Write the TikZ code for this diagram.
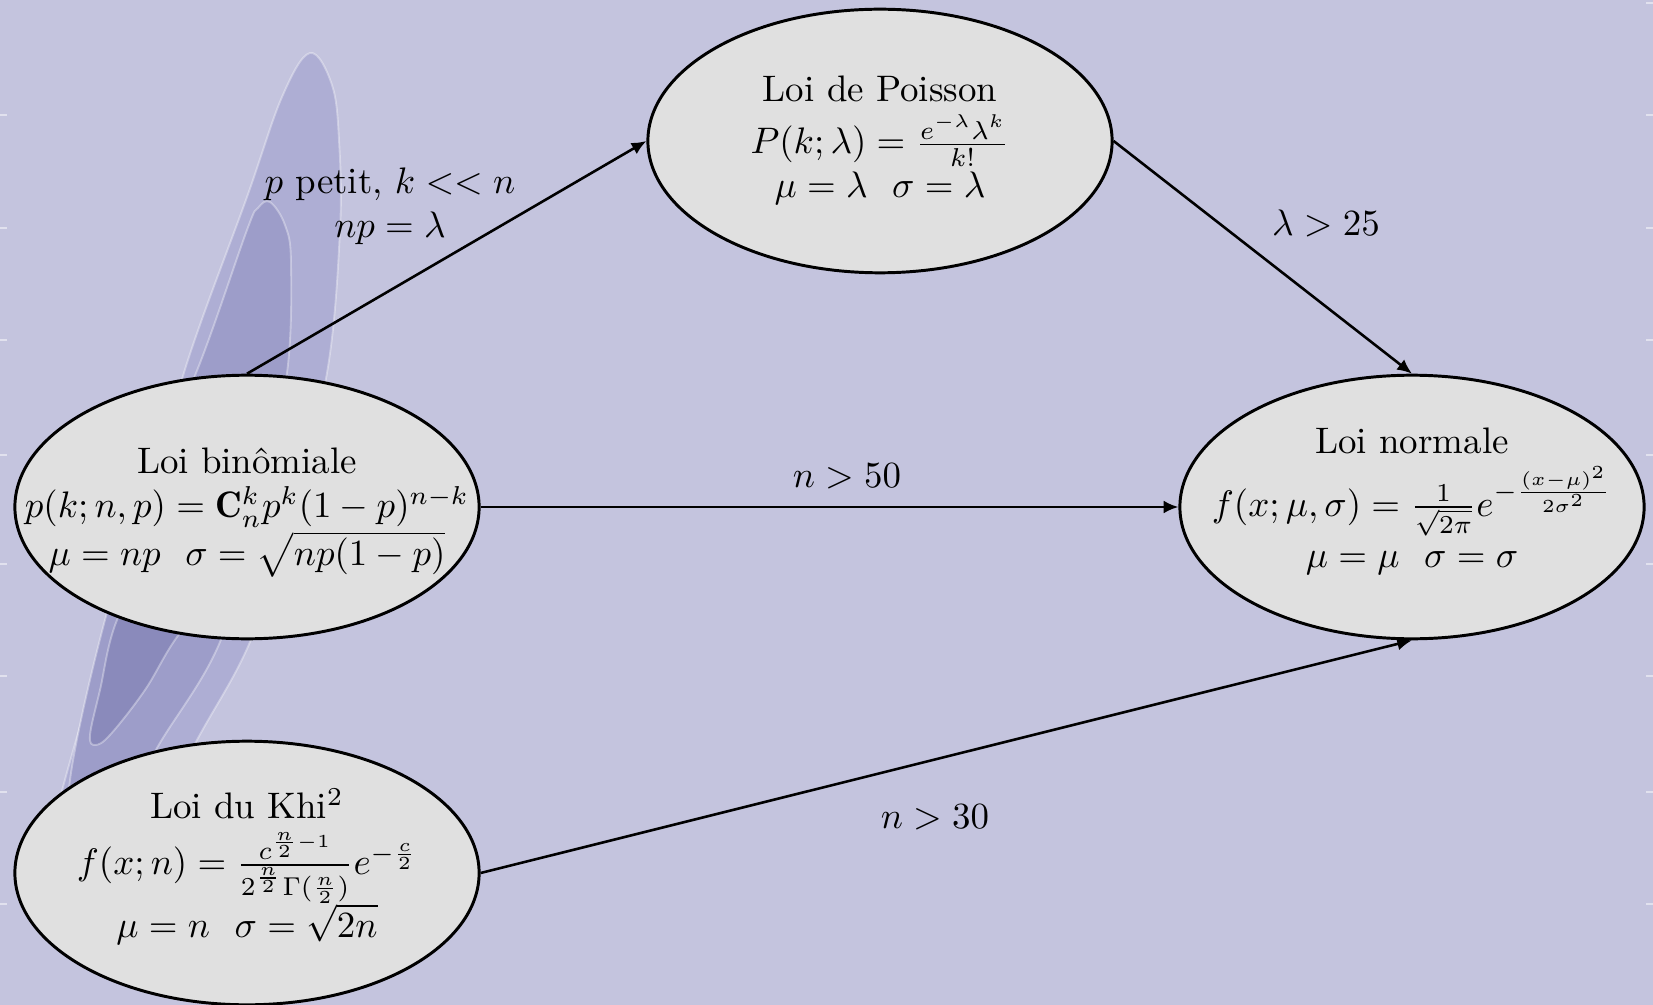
\documentclass[tikz,border=0pt]{standalone}
\usepackage{fontspec}
\usetikzlibrary{arrows.meta,shapes.geometric}
\definecolor{bgcol}{HTML}{C4C4DE}
\definecolor{blobA}{HTML}{AEAED4}
\definecolor{blobB}{HTML}{9D9DC9}
\definecolor{blobC}{HTML}{8A8ABB}
\definecolor{ellfill}{HTML}{E0E0E0}
\newcommand{\tlines}[1]{\begin{tabular}{@{}c@{}}#1\end{tabular}}
\begin{document}
\begin{tikzpicture}[x=0.00952cm,y=-0.00952cm,
  distnode/.style={ellipse,draw=black,line width=0.8pt,fill=ellfill,
    minimum width=4.42cm,minimum height=2.51cm,inner sep=0pt},
  disttext/.style={inner sep=0pt},
  conn/.style={line width=0.7pt,-{Latex[length=4pt,width=3.5pt]}},
  edgelabel/.style={align=center,inner sep=1pt},
  blobline/.style={draw=white,draw opacity=0.35,line width=0.5pt},
  tick/.style={white,opacity=0.5,line width=0.6pt}]
\fill[bgcol] (0,0) rectangle (1653,1005);
\useasboundingbox (0,0) rectangle (1653,1005);
% background blobs
\filldraw[fill=blobA,blobline] plot[smooth cycle,tension=0.6] coordinates {
  (310,53) (332,85) (339,140) (340,230) (327,373) (290,520) (250,642)
  (197,740) (150,830) (80,880) (50,850) (63,787) (112,618) (150,500)
  (187,363) (247,197) (282,97)};
\filldraw[fill=blobB,blobline] plot[smooth cycle,tension=0.6] coordinates {
  (270,202) (285,225) (291,263) (287,373) (260,500) (220,642) (157,748)
  (120,820) (75,850) (70,780) (105,620) (150,480) (200,363) (247,230)
  (258,208)};
\filldraw[fill=blobC,blobline] plot[smooth cycle,tension=0.6] coordinates {
  (240,470) (250,520) (230,570) (177,637) (145,690) (110,735) (95,745)
  (90,735) (100,690) (117,620) (160,540) (210,480)};
% edge ticks
\foreach \yy in {115,228,340,455,564,676,792,904} {
  \draw[tick] (0,\yy) -- (7,\yy);
  \draw[tick] (1646,\yy) -- (1653,\yy);
}
\draw[tick] (1646,3) -- (1653,3);
% nodes
\node[distnode] (poisson) at (880,141) {};
\node[distnode] (binom) at (247,507) {};
\node[distnode] (khi) at (247,873) {};
\node[distnode] (normal) at (1412,507) {};
\node[disttext] (poissontxt) at (poisson.center) {\tlines{Loi de Poisson\\
  $P(k;\lambda)=\frac{e^{-\lambda}\lambda^k}{k!}$\\
  $\mu=\lambda\ \ \sigma=\lambda$}};
\node[disttext] (binomtxt) at ([yshift=-1pt]binom.center) {\tlines{Loi bin\^omiale\\
  $p(k;n,p)=\mathbf{C}_n^k p^k(1-p)^{n-k}$\\
  $\mu=np\ \ \sigma=\sqrt{np(1-p)}$}};
\node[disttext] (khitxt) at ([yshift=1pt]khi.center) {\tlines{Loi du Khi$^2$\\
  $f(x;n)=\frac{c^{\frac{n}{2}-1}}{2^{\frac{n}{2}}\Gamma(\frac{n}{2})}e^{-\frac{c}{2}}$\\
  $\mu=n\ \ \sigma=\sqrt{2n}$}};
\node[disttext] (normaltxt) at ([yshift=1.5pt]normal.center) {\tlines{Loi normale\\
  $f(x;\mu,\sigma)=\frac{1}{\sqrt{2\pi}}e^{-\frac{(x-\mu)^2}{2\sigma^2}}$\\
  $\mu=\mu\ \ \sigma=\sigma$}};
% connectors
\draw[conn] (binom.north) -- (poisson.west);
\draw[conn] (poisson.east) -- (normal.north);
\draw[conn] (binom.east) -- (normal.west);
\draw[conn] (khi.east) -- (normal.south);
% labels
\node[edgelabel] (lab1) at (390,206) {$p$ petit, $k<<n$\\ $np=\lambda$};
\node[edgelabel] (lab2) at (1326,223) {$\lambda>25$};
\node[edgelabel] (lab3) at (847,476) {$n>50$};
\node[edgelabel] (lab4) at (935,817) {$n>30$};
\end{tikzpicture}
\end{document}
